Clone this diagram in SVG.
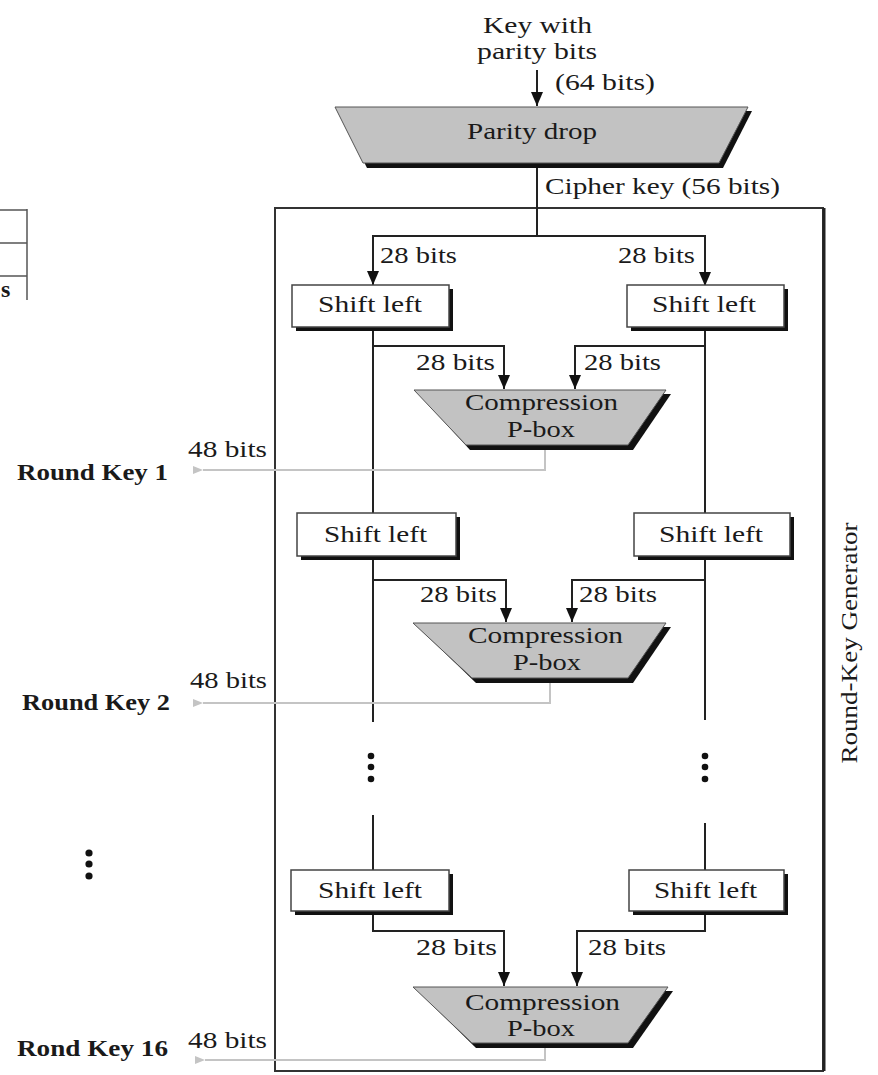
<svg xmlns="http://www.w3.org/2000/svg" width="878" height="1075" viewBox="0 0 878 1075">
<defs>
<style>
.t{font-family:"Liberation Serif","Times New Roman",serif;font-size:24px;fill:#1a1a1a}
.b{font-weight:bold}
.ln{stroke:#222;stroke-width:2;fill:none}
.gl{stroke:#c4c4c4;stroke-width:2;fill:none}
.box{fill:#fff;stroke:#444;stroke-width:1.5}
.sh{fill:#111}
.pb{fill:#c2c2c2;stroke:#555;stroke-width:1}
.dot{fill:#111}
</style>
<marker id="ah" viewBox="0 0 14 12" refX="14" refY="6" markerWidth="14" markerHeight="12" markerUnits="userSpaceOnUse" orient="auto">
<path d="M0,0 L14,6 L0,12 z" fill="#111"/>
</marker>
<marker id="ga" viewBox="0 0 10 8" refX="0" refY="4" markerWidth="10" markerHeight="8" markerUnits="userSpaceOnUse" orient="auto">
<path d="M10,0 L0,4 L10,8 z" fill="#c4c4c4"/>
</marker>
</defs>
<rect width="878" height="1075" fill="#fff"/>

<!-- partial table at left edge -->
<g id="table-fragment">
<line x1="0" y1="210" x2="27" y2="210" stroke="#555" stroke-width="1.5"/>
<line x1="0" y1="243" x2="27" y2="243" stroke="#555" stroke-width="1.5"/>
<line x1="0" y1="276" x2="27" y2="276" stroke="#555" stroke-width="1.5"/>
<line x1="27" y1="209" x2="27" y2="300" stroke="#555" stroke-width="1.5"/>
<text class="t b" x="1" y="297">s</text>
</g>

<!-- outer generator box -->
<g id="generator">
<rect x="275" y="208" width="548" height="863" fill="none" stroke="#333" stroke-width="2"/>
<line x1="824" y1="208" x2="824" y2="1071" stroke="#222" stroke-width="3"/>
<text class="t" transform="translate(857,643) rotate(-90)" text-anchor="middle" textLength="241" lengthAdjust="spacingAndGlyphs">Round-Key Generator</text>
</g>

<!-- connectors -->
<g id="connectors">
<line class="ln" x1="537" y1="70" x2="537" y2="106" marker-end="url(#ah)"/>
<line class="ln" x1="537" y1="163" x2="537" y2="236"/>
<polyline class="ln" points="373,286 373,236 705,236 705,286" marker-end="url(#ah)"/>
<line class="ln" x1="373" y1="236" x2="373" y2="285" marker-end="url(#ah)"/>
<!-- row1 chains -->
<line class="ln" x1="373" y1="327" x2="373" y2="513"/>
<line class="ln" x1="705" y1="327" x2="705" y2="513"/>
<polyline class="ln" points="373,346 504,346 504,389" marker-end="url(#ah)"/>
<polyline class="ln" points="705,346 575,346 575,389" marker-end="url(#ah)"/>
<!-- row2 chains -->
<line class="ln" x1="373" y1="556" x2="373" y2="722"/>
<line class="ln" x1="705" y1="556" x2="705" y2="720"/>
<polyline class="ln" points="373,580 506,580 506,622" marker-end="url(#ah)"/>
<polyline class="ln" points="705,580 572,580 572,622" marker-end="url(#ah)"/>
<!-- row3 chains -->
<line class="ln" x1="373" y1="815" x2="373" y2="870"/>
<line class="ln" x1="705" y1="823" x2="705" y2="870"/>
<polyline class="ln" points="373,911 373,931 504,931 504,986" marker-end="url(#ah)"/>
<polyline class="ln" points="705,911 705,931 577,931 577,986" marker-end="url(#ah)"/>
<!-- round key outputs -->
<polyline class="gl" points="545,446 545,470 203,470" marker-end="url(#ga)"/>
<polyline class="gl" points="550,679 550,703 203,703" marker-end="url(#ga)"/>
<polyline class="gl" points="545,1044 545,1060 205,1060" marker-end="url(#ga)"/>
</g>

<!-- top input -->
<g id="key-input">
<text class="t" x="483" y="33" textLength="109" lengthAdjust="spacingAndGlyphs">Key with</text>
<text class="t" x="477" y="59" textLength="120" lengthAdjust="spacingAndGlyphs">parity bits</text>
<text class="t" x="555" y="90" textLength="100" lengthAdjust="spacingAndGlyphs">(64 bits)</text>
</g>

<g id="parity-drop">
<polygon class="sh" points="339,111 752,111 723,168 367,168"/>
<polygon class="pb" points="335,107 748,107 719,163 363,163"/>
<text class="t" x="467" y="139" textLength="130" lengthAdjust="spacingAndGlyphs">Parity drop</text>
</g>
<text class="t" x="545" y="194" textLength="235" lengthAdjust="spacingAndGlyphs">Cipher key (56 bits)</text>

<!-- row 1 -->
<g id="labels-row1">
<text class="t" x="380" y="263" textLength="77" lengthAdjust="spacingAndGlyphs">28 bits</text>
<text class="t" x="618" y="263" textLength="77" lengthAdjust="spacingAndGlyphs">28 bits</text>
<text class="t" x="416" y="370" textLength="79" lengthAdjust="spacingAndGlyphs">28 bits</text>
<text class="t" x="584" y="370" textLength="77" lengthAdjust="spacingAndGlyphs">28 bits</text>
</g>
<g id="shift-1L">
<rect class="sh" x="296" y="289" width="157" height="42"/>
<rect class="box" x="292" y="285" width="157" height="42"/>
<text class="t" x="318" y="312" textLength="104" lengthAdjust="spacingAndGlyphs">Shift left</text>
</g>
<g id="shift-1R">
<rect class="sh" x="631" y="289" width="157" height="42"/>
<rect class="box" x="627" y="285" width="157" height="42"/>
<text class="t" x="652" y="312" textLength="104" lengthAdjust="spacingAndGlyphs">Shift left</text>
</g>
<g id="pbox-1">
<polygon class="sh" points="419,394 671,394 633,450 470,450"/>
<polygon class="pb" points="414,390 666,390 628,445 466,445"/>
<text class="t" x="465" y="410" textLength="153" lengthAdjust="spacingAndGlyphs">Compression</text>
<text class="t" x="507" y="437" textLength="68" lengthAdjust="spacingAndGlyphs">P-box</text>
</g>
<g id="roundkey-1">
<text class="t" x="188" y="457" textLength="79" lengthAdjust="spacingAndGlyphs">48 bits</text>
<text class="t b" x="17" y="480" textLength="151" lengthAdjust="spacingAndGlyphs">Round Key 1</text>
</g>

<!-- row 2 -->
<g id="shift-2L">
<rect class="sh" x="301" y="517" width="159" height="43"/>
<rect class="box" x="297" y="513" width="159" height="43"/>
<text class="t" x="324" y="542" textLength="103" lengthAdjust="spacingAndGlyphs">Shift left</text>
</g>
<g id="shift-2R">
<rect class="sh" x="638" y="517" width="156" height="43"/>
<rect class="box" x="634" y="513" width="156" height="43"/>
<text class="t" x="659" y="542" textLength="104" lengthAdjust="spacingAndGlyphs">Shift left</text>
</g>
<g id="labels-row2">
<text class="t" x="420" y="602" textLength="77" lengthAdjust="spacingAndGlyphs">28 bits</text>
<text class="t" x="579" y="602" textLength="78" lengthAdjust="spacingAndGlyphs">28 bits</text>
</g>
<g id="pbox-2">
<polygon class="sh" points="418,627 671,627 633,683 476,683"/>
<polygon class="pb" points="413,623 666,623 628,678 472,678"/>
<text class="t" x="468" y="643" textLength="155" lengthAdjust="spacingAndGlyphs">Compression</text>
<text class="t" x="513" y="670" textLength="68" lengthAdjust="spacingAndGlyphs">P-box</text>
</g>
<g id="roundkey-2">
<text class="t" x="190" y="688" textLength="77" lengthAdjust="spacingAndGlyphs">48 bits</text>
<text class="t b" x="22" y="710" textLength="148" lengthAdjust="spacingAndGlyphs">Round Key 2</text>
</g>

<!-- ellipsis dots -->
<g id="dots">
<circle class="dot" cx="371" cy="756" r="3.3"/>
<circle class="dot" cx="371" cy="767" r="3.3"/>
<circle class="dot" cx="371" cy="779" r="3.3"/>
<circle class="dot" cx="705" cy="756" r="3.3"/>
<circle class="dot" cx="705" cy="767" r="3.3"/>
<circle class="dot" cx="705" cy="779" r="3.3"/>
<circle class="dot" cx="89" cy="853" r="3.6"/>
<circle class="dot" cx="89" cy="864" r="3.6"/>
<circle class="dot" cx="89" cy="876" r="3.6"/>
</g>

<!-- row 3 -->
<g id="shift-3L">
<rect class="sh" x="295" y="874" width="158" height="41"/>
<rect class="box" x="291" y="870" width="158" height="41"/>
<text class="t" x="318" y="898" textLength="104" lengthAdjust="spacingAndGlyphs">Shift left</text>
</g>
<g id="shift-3R">
<rect class="sh" x="633" y="874" width="155" height="41"/>
<rect class="box" x="629" y="870" width="155" height="41"/>
<text class="t" x="654" y="898" textLength="103" lengthAdjust="spacingAndGlyphs">Shift left</text>
</g>
<g id="labels-row3">
<text class="t" x="416" y="955" textLength="81" lengthAdjust="spacingAndGlyphs">28 bits</text>
<text class="t" x="588" y="955" textLength="78" lengthAdjust="spacingAndGlyphs">28 bits</text>
</g>
<g id="pbox-3">
<polygon class="sh" points="418,991 673,991 633,1048 476,1048"/>
<polygon class="pb" points="413,987 668,987 628,1043 472,1043"/>
<text class="t" x="465" y="1010" textLength="155" lengthAdjust="spacingAndGlyphs">Compression</text>
<text class="t" x="507" y="1036" textLength="68" lengthAdjust="spacingAndGlyphs">P-box</text>
</g>
<g id="roundkey-16">
<text class="t" x="188" y="1048" textLength="79" lengthAdjust="spacingAndGlyphs">48 bits</text>
<text class="t b" x="17" y="1056" textLength="151" lengthAdjust="spacingAndGlyphs">Rond Key 16</text>
</g>
</svg>
